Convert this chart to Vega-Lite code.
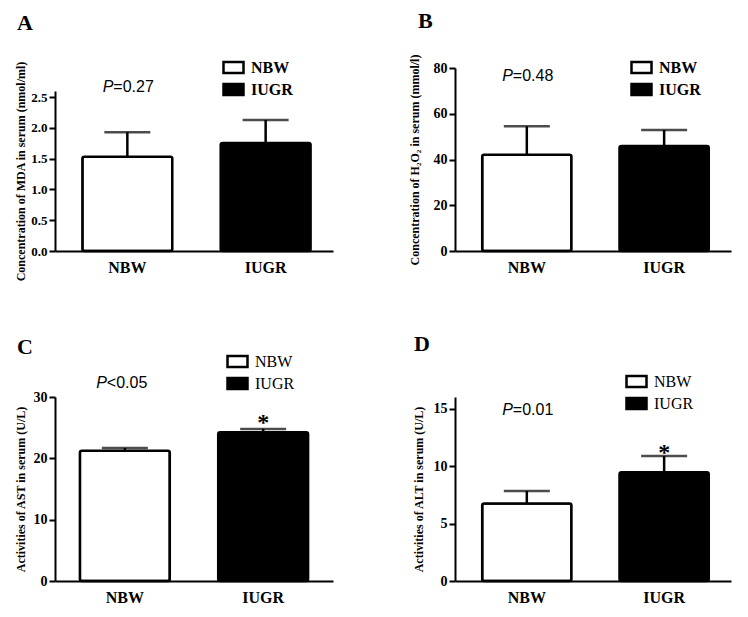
{
  "$schema": "https://vega.github.io/schema/vega-lite/v6.json",
  "padding": {"left": 14, "top": 10, "right": 5, "bottom": 5},
  "background": "white",
  "spacing": 51,
  "resolve": {"scale": {"fill": "independent"}, "legend": {"fill": "independent"}},
  "config": {
    "view": {"stroke": null},
    "font": "Liberation Serif",
    "axis": {
      "labelFont": "Liberation Serif", "labelFontWeight": "bold", "labelColor": "black",
      "domainColor": "black", "domainWidth": 2, "tickColor": "black", "tickWidth": 2, "tickSize": 6,
      "labelOverlap": false, "labelFlush": false,
      "grid": false, "titleFont": "Liberation Serif, DejaVu Serif", "titleFontWeight": "bold", "titleColor": "black", "titleFontSize": 12
    },
    "axisX": {"ticks": false, "labelFontSize": 16, "labelPadding": 8, "labelAngle": 0, "title": null},
    "axisY": {"labelFontSize": 14, "minExtent": 22, "maxExtent": 22, "labelPadding": 2, "tickCount": 10},
    "legend": {"title": null, "orient": "none", "padding": 0, "rowPadding": 0, "labelOffset": 6,
      "symbolType": "M-1,-0.55L1,-0.55L1,0.55L-1,0.55Z", "symbolSize": 400, "symbolStrokeColor": "black", "symbolStrokeWidth": 2.5,
      "labelFont": "Liberation Serif", "labelFontSize": 16, "labelColor": "black"},
    "title": {"font": "Liberation Serif", "fontSize": 22, "fontWeight": "bold", "color": "black", "anchor": "start", "frame": "bounds"}
  },
  "vconcat": [
    {
      "spacing": 75,
      "resolve": {"scale": {"fill": "independent"}, "legend": {"fill": "independent"}},
      "hconcat": [
        {
          "width": 278, "height": 183,
          "title": {"text": "A", "offset": 21, "dx": 3},
          "data": {"values": [{"group": "NBW", "mean": 1.53, "upper": 1.93}, {"group": "IUGR", "mean": 1.755, "upper": 2.13}]},
          "encoding": {"x": {"field": "group", "type": "nominal", "sort": ["NBW", "IUGR"], "scale": {"paddingInner": 0.35, "paddingOuter": 0.18, "align": 0.55}}},
          "layer": [
            {"mark": {"type": "bar", "stroke": "black", "strokeWidth": 2.5, "cornerRadius": 2},
             "encoding": {"y": {"field": "mean", "type": "quantitative", "scale": {"domain": [0, 2.5], "range": [183, 23]}, "axis": {"values": [0, 0.5, 1, 1.5, 2, 2.5], "format": ".1f", "labelFontSize": 13, "title": "Concentration of MDA in serum (nmol/ml)", "titlePadding": 6}},
               "fill": {"field": "group", "type": "nominal", "scale": {"domain": ["NBW", "IUGR"], "range": ["white", "black"]}, "legend": {"legendX": 167, "legendY": -12, "labelFontWeight": "bold"}}}},
            {"mark": {"type": "rule", "strokeWidth": 2.5, "color": "black"}, "encoding": {"y": {"field": "mean", "type": "quantitative"}, "y2": {"field": "upper"}}},
            {"mark": {"type": "tick", "size": 46, "thickness": 2.5, "color": "black"}, "encoding": {"y": {"field": "upper", "type": "quantitative"}}},
            {"data": {"values": [{"p": "P", "rest": "=0.27"}]}, "layer": [
              {"mark": {"type": "text", "font": "Liberation Sans", "fontStyle": "italic", "fontSize": 16, "align": "right", "baseline": "alphabetic", "dx": -14, "dy": -5, "color": "black"}, "encoding": {"x": {"datum": "NBW"}, "y": {"datum": 2.5}, "text": {"field": "p"}}},
              {"mark": {"type": "text", "font": "Liberation Sans", "fontSize": 16, "align": "left", "baseline": "alphabetic", "dx": -14, "dy": -5, "color": "black"}, "encoding": {"x": {"datum": "NBW"}, "y": {"datum": 2.5}, "text": {"field": "rest"}}}
            ]}
          ]
        },
        {
          "width": 276, "height": 183,
          "title": {"text": "B", "offset": 21, "dx": 10},
          "data": {"values": [{"group": "NBW", "mean": 42.1, "upper": 54.5}, {"group": "IUGR", "mean": 45.9, "upper": 52.9}]},
          "encoding": {"x": {"field": "group", "type": "nominal", "sort": ["NBW", "IUGR"], "scale": {"paddingInner": 0.35, "paddingOuter": 0.18, "align": 0.55}}},
          "layer": [
            {"mark": {"type": "bar", "stroke": "black", "strokeWidth": 2.5, "cornerRadius": 2},
             "encoding": {"y": {"field": "mean", "type": "quantitative", "scale": {"domain": [0, 80]}, "axis": {"values": [0, 20, 40, 60, 80], "title": "Concentration of H₂O₂ in serum (mmol/l)", "titlePadding": 12}},
               "fill": {"field": "group", "type": "nominal", "scale": {"domain": ["NBW", "IUGR"], "range": ["white", "black"]}, "legend": {"legendX": 175, "legendY": -12, "labelFontWeight": "bold"}}}},
            {"mark": {"type": "rule", "strokeWidth": 2.5, "color": "black"}, "encoding": {"y": {"field": "mean", "type": "quantitative"}, "y2": {"field": "upper"}}},
            {"mark": {"type": "tick", "size": 46, "thickness": 2.5, "color": "black"}, "encoding": {"y": {"field": "upper", "type": "quantitative"}}},
            {"data": {"values": [{"p": "P", "rest": "=0.48"}]}, "layer": [
              {"mark": {"type": "text", "font": "Liberation Sans", "fontStyle": "italic", "fontSize": 16, "align": "right", "baseline": "alphabetic", "dx": -14, "dy": 13, "color": "black"}, "encoding": {"x": {"datum": "NBW"}, "y": {"datum": 80}, "text": {"field": "p"}}},
              {"mark": {"type": "text", "font": "Liberation Sans", "fontSize": 16, "align": "left", "baseline": "alphabetic", "dx": -14, "dy": 13, "color": "black"}, "encoding": {"x": {"datum": "NBW"}, "y": {"datum": 80}, "text": {"field": "rest"}}}
            ]}
          ]
        }
      ]
    },
    {
      "spacing": 79,
      "resolve": {"scale": {"fill": "independent"}, "legend": {"fill": "independent"}},
      "hconcat": [
        {
          "width": 278, "height": 184,
          "title": {"text": "C", "offset": -9, "dx": 3},
          "data": {"values": [{"group": "NBW", "mean": 21.25, "upper": 21.7}, {"group": "IUGR", "mean": 24.25, "upper": 24.8}]},
          "encoding": {"x": {"field": "group", "type": "nominal", "sort": ["NBW", "IUGR"], "scale": {"paddingInner": 0.35, "paddingOuter": 0.18, "align": 0.5}}},
          "layer": [
            {"mark": {"type": "bar", "stroke": "black", "strokeWidth": 2.5, "cornerRadius": 2},
             "encoding": {"y": {"field": "mean", "type": "quantitative", "scale": {"domain": [0, 30]}, "axis": {"values": [0, 10, 20, 30], "title": "Activities of AST in serum (U/L)", "titlePadding": 6}},
               "fill": {"field": "group", "type": "nominal", "scale": {"domain": ["NBW", "IUGR"], "range": ["white", "black"]}, "legend": {"legendX": 171, "legendY": -47, "labelFontWeight": "normal"}}}},
            {"mark": {"type": "rule", "strokeWidth": 2.5, "color": "black"}, "encoding": {"y": {"field": "mean", "type": "quantitative"}, "y2": {"field": "upper"}}},
            {"mark": {"type": "tick", "size": 46, "thickness": 2.5, "color": "black"}, "encoding": {"y": {"field": "upper", "type": "quantitative"}}},
            {"transform": [{"filter": "datum.group === 'IUGR'"}], "mark": {"type": "text", "text": "*", "font": "Liberation Serif", "fontSize": 24, "fontWeight": "bold", "align": "center", "baseline": "alphabetic", "dy": 1, "color": "black"}, "encoding": {"y": {"field": "upper", "type": "quantitative"}}},
            {"data": {"values": [{"p": "P", "rest": "<0.05"}]}, "layer": [
              {"mark": {"type": "text", "font": "Liberation Sans", "fontStyle": "italic", "fontSize": 16, "align": "right", "baseline": "alphabetic", "dx": -18, "dy": -9, "color": "black"}, "encoding": {"x": {"datum": "NBW"}, "y": {"datum": 30}, "text": {"field": "p"}}},
              {"mark": {"type": "text", "font": "Liberation Sans", "fontSize": 16, "align": "left", "baseline": "alphabetic", "dx": -18, "dy": -9, "color": "black"}, "encoding": {"x": {"datum": "NBW"}, "y": {"datum": 30}, "text": {"field": "rest"}}}
            ]}
          ]
        },
        {
          "width": 276, "height": 184,
          "title": {"text": "D", "offset": 14, "dx": 2},
          "data": {"values": [{"group": "NBW", "mean": 6.74, "upper": 7.82}, {"group": "IUGR", "mean": 9.45, "upper": 10.86}]},
          "encoding": {"x": {"field": "group", "type": "nominal", "sort": ["NBW", "IUGR"], "scale": {"paddingInner": 0.35, "paddingOuter": 0.18, "align": 0.55}}},
          "layer": [
            {"mark": {"type": "bar", "stroke": "black", "strokeWidth": 2.5, "cornerRadius": 2},
             "encoding": {"y": {"field": "mean", "type": "quantitative", "scale": {"domain": [0, 15]}, "axis": {"values": [0, 5, 10, 15], "title": "Activities of ALT in serum (U/L)", "titlePadding": 8}},
               "fill": {"field": "group", "type": "nominal", "scale": {"domain": ["NBW", "IUGR"], "range": ["white", "black"]}, "legend": {"legendX": 170, "legendY": -27, "labelFontWeight": "normal"}}}},
            {"mark": {"type": "rule", "strokeWidth": 2.5, "color": "black"}, "encoding": {"y": {"field": "mean", "type": "quantitative"}, "y2": {"field": "upper"}}},
            {"mark": {"type": "tick", "size": 46, "thickness": 2.5, "color": "black"}, "encoding": {"y": {"field": "upper", "type": "quantitative"}}},
            {"transform": [{"filter": "datum.group === 'IUGR'"}], "mark": {"type": "text", "text": "*", "font": "Liberation Serif", "fontSize": 24, "fontWeight": "bold", "align": "center", "baseline": "alphabetic", "dy": 4, "color": "black"}, "encoding": {"y": {"field": "upper", "type": "quantitative"}}},
            {"data": {"values": [{"p": "P", "rest": "=0.01"}]}, "layer": [
              {"mark": {"type": "text", "font": "Liberation Sans", "fontStyle": "italic", "fontSize": 16, "align": "right", "baseline": "alphabetic", "dx": -14, "dy": 6, "color": "black"}, "encoding": {"x": {"datum": "NBW"}, "y": {"datum": 15}, "text": {"field": "p"}}},
              {"mark": {"type": "text", "font": "Liberation Sans", "fontSize": 16, "align": "left", "baseline": "alphabetic", "dx": -14, "dy": 6, "color": "black"}, "encoding": {"x": {"datum": "NBW"}, "y": {"datum": 15}, "text": {"field": "rest"}}}
            ]}
          ]
        }
      ]
    }
  ]
}
